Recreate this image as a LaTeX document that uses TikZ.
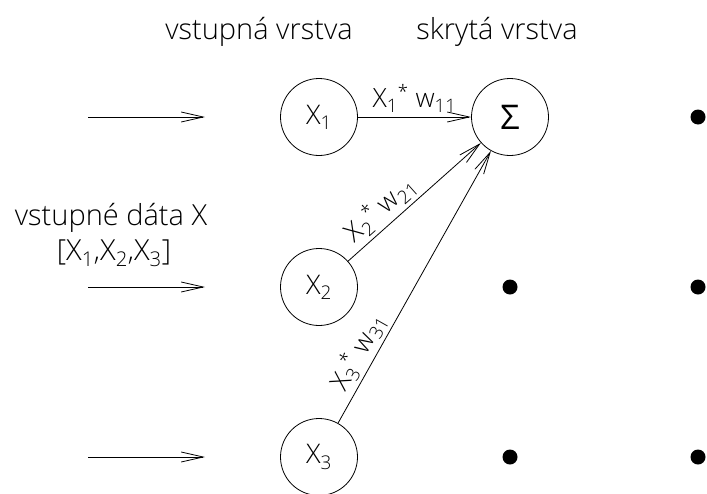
\documentclass[tikz,border=0pt]{standalone}
\usepackage{fontspec}
\setmainfont{Open Sans Light}
\newfontfamily\sumfont{Open Sans}
\usetikzlibrary{arrows.meta}

\begin{document}
\begin{tikzpicture}[x=1pt, y=1pt, line width=0.8pt,
    neuron/.style={circle,draw,minimum size=77pt,inner sep=0pt,font=\fontsize{27}{32}\selectfont},
    dot/.style={circle,fill=black,minimum size=15pt,inner sep=0pt},
    title/.style={font=\fontsize{29}{34}\selectfont},
    wlabel/.style={font=\fontsize{26.5}{31}\selectfont},
    head/.style={-{Straight Barb[length=22pt,width=10pt]}},
    node distance = 170pt]
        \useasboundingbox (0,0) rectangle (707,-493);
        \node[title](tin)   at (259,-32)  {vstupná vrstva};
        \node[title](thid)  at (497,-32)  {skrytá vrstva};
        \node[title](data)  at (111,-218) {vstupné dáta X};
        \node[title](vec)   at (114,-253) {[X\textsubscript{1},X\textsubscript{2},X\textsubscript{3}]};
        \node[neuron](x1)   at (319,-117) {X\textsubscript{1}};
        \node[neuron](x2)   [below of = x1] {X\textsubscript{2}};
        \node[neuron](x3)   [below of = x2] {X\textsubscript{3}};
        \node[neuron](sum)  [right of = x1, node distance = 191pt] {\sumfont\fontsize{34}{38}\selectfont Σ};
        \node[dot](d2)      [below of = sum] {};
        \node[dot](d3)      [below of = d2]  {};
        \node[dot](e1)      [right of = sum, node distance = 188pt] {};
        \node[dot](e2)      [below of = e1]  {};
        \node[dot](e3)      [below of = e2]  {};
        \coordinate (in1) at (88,-117);  \coordinate (out1) at (205,-117);
        \coordinate (in2) at (88,-287);  \coordinate (out2) at (205,-287);
        \coordinate (in3) at (88,-457);  \coordinate (out3) at (205,-457);
        \path[head]
          (in1) edge (out1)
          (in2) edge (out2)
          (in3) edge (out3)
          (x1) edge node[above=1pt, wlabel] {X\textsubscript{1}\textsuperscript{*} w\textsubscript{11}} (sum)
          (x2) edge node[sloped, above, pos=0.33, wlabel] {X\textsubscript{2}\textsuperscript{*} w\textsubscript{21}} (sum)
          (x3) edge node[sloped, above, pos=0.23, wlabel] {X\textsubscript{3}\textsuperscript{*} w\textsubscript{31}} (sum)
          ;
      \end{tikzpicture}
\end{document}
